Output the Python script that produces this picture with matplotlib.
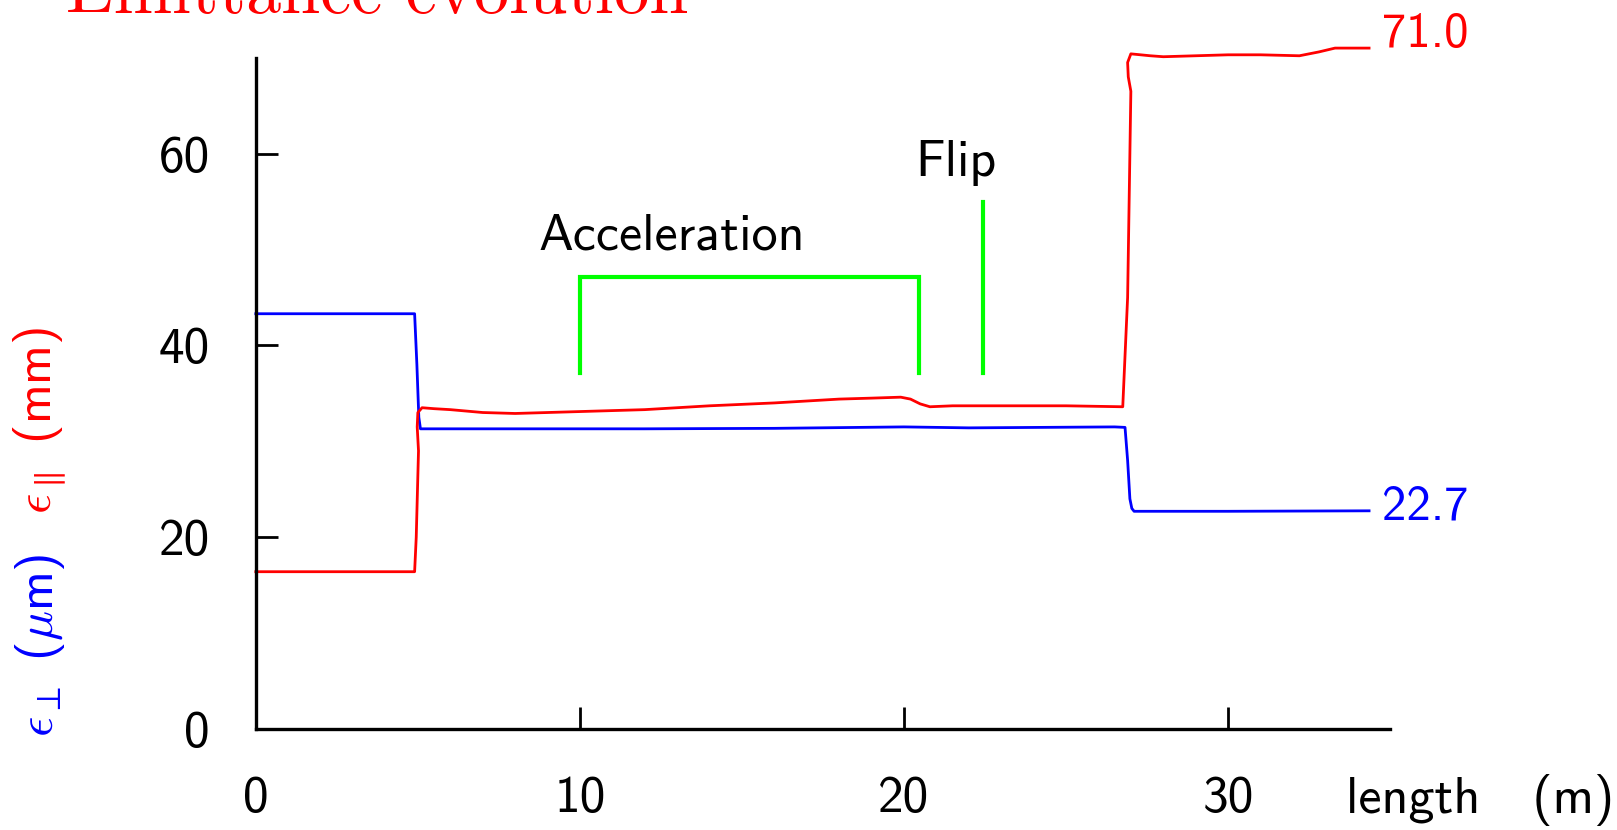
import matplotlib
matplotlib.use("Agg")
import matplotlib.pyplot as plt

plt.rcParams['mathtext.fontset'] = 'cm'
plt.rcParams['axes.unicode_minus'] = False

# ---- data ----
perp_x = [0, 2, 4.9, 4.97, 5.03, 5.08, 8, 12, 16, 20, 22, 26.5, 26.82, 26.9, 26.97, 27.03, 27.1, 30, 34.35]
perp_y = [43.3, 43.3, 43.3, 38.0, 32.5, 31.3, 31.3, 31.3, 31.35, 31.5, 31.4, 31.5, 31.45, 28.0, 24.0, 23.0, 22.7, 22.7, 22.75]

par_x = [0, 4.9, 4.95, 5.02, 4.98, 5.0, 5.13, 5.5, 6, 7, 8, 9, 10, 12, 14, 16, 17, 18, 19, 19.9,
         20.2, 20.5, 20.8, 21.5, 23, 25, 26.75, 26.9, 26.97, 27.0, 26.92, 26.9, 27.0, 27.3, 27.6, 28,
         29, 30, 31, 32.2, 32.8, 33.3, 34.35]
par_y = [16.4, 16.4, 20.0, 29.0, 31.5, 33.0, 33.5, 33.4, 33.3, 33.0, 32.9, 33.0, 33.1, 33.3, 33.7, 34.0, 34.2, 34.4, 34.5, 34.6,
         34.4, 33.9, 33.6, 33.7, 33.7, 33.7, 33.6, 45.0, 60.0, 66.5, 68.0, 69.5, 70.4, 70.3, 70.2, 70.1,
         70.2, 70.3, 70.3, 70.2, 70.6, 71.0, 71.0]

accel_x = [10.0, 10.0, 20.45, 20.45]
accel_y = [37.1, 47.1, 47.1, 37.1]
flip_x = [22.45, 22.45]
flip_y = [37.1, 55.0]

xticks = [0, 10, 20, 30]
xtick_labels = ['0', '10', '20', '30']
yticks = [0, 20, 40, 60]
ytick_labels = ['0', '20', '40', '60']

par_end_label = '71.0'
perp_end_label = '22.7'

RED = '#ff0000'
BLUE = '#0000ff'
GREEN = '#00ff00'
SANS = 'cmss10'
FS = 37.5

fig = plt.figure(figsize=(16.17, 8.30), dpi=100)
ax = fig.add_axes([0.1582, 0.1217, 0.7015, 0.8088])
ax.set_xlim(0, 35)
ax.set_ylim(0, 70)

ax.plot(perp_x, perp_y, color=BLUE, lw=2.0, clip_on=False, solid_joinstyle='round')
ax.plot(par_x, par_y, color=RED, lw=2.0, clip_on=False, solid_joinstyle='round')
ax.plot(accel_x, accel_y, color=GREEN, lw=3.0, solid_joinstyle='miter')
ax.plot(flip_x, flip_y, color=GREEN, lw=3.0)

ax.text(12.84, 50.0, 'Acceleration', family=SANS, fontsize=FS, ha='center', va='baseline')
ax.text(21.6, 57.7, 'Flip', family=SANS, fontsize=FS, ha='center', va='baseline')

ax.annotate(par_end_label, xy=(par_x[-1], par_y[-1]), xytext=(9, 10), textcoords='offset points',
            color=RED, family=SANS, fontsize=35, ha='left', va='center', annotation_clip=False)
ax.annotate(perp_end_label, xy=(perp_x[-1], perp_y[-1]), xytext=(9, 3), textcoords='offset points',
            color=BLUE, family=SANS, fontsize=35, ha='left', va='center', annotation_clip=False)

for s in ['top', 'right']:
    ax.spines[s].set_visible(False)
for s in ['left', 'bottom']:
    ax.spines[s].set_linewidth(2.4)

ax.set_xticks(xticks, xtick_labels)
ax.set_yticks(yticks, ytick_labels)
ax.tick_params(direction='in', length=16, width=2.0, labelsize=37)
ax.tick_params(axis='x', pad=34)
ax.tick_params(axis='y', pad=33)
for lab in ax.get_xticklabels() + ax.get_yticklabels():
    lab.set_family(SANS)

fig.text(1346/1617, 1 - 812.6/830, 'length   (m)', family=SANS, fontsize=FS, ha='left', va='baseline')

# y label in two colours
fig.text(40/1617, 1 - 645/830, r'$\epsilon_\perp$ ($\mu$m)', family=SANS, fontsize=36,
         color=BLUE, rotation=90, ha='center', va='center')
fig.text(40/1617, 1 - 420/830, r'$\epsilon_\parallel$ (mm)', family=SANS, fontsize=36,
         color=RED, rotation=90, ha='center', va='center')

# title (partially cut at top, as in the reference)
fig.text(66/1617, 1 - 12.7/830, 'Emittance evolution', family='cmr10', fontsize=50.5,
         color=RED, ha='left', va='baseline')

fig.savefig('out.png', dpi=100)
